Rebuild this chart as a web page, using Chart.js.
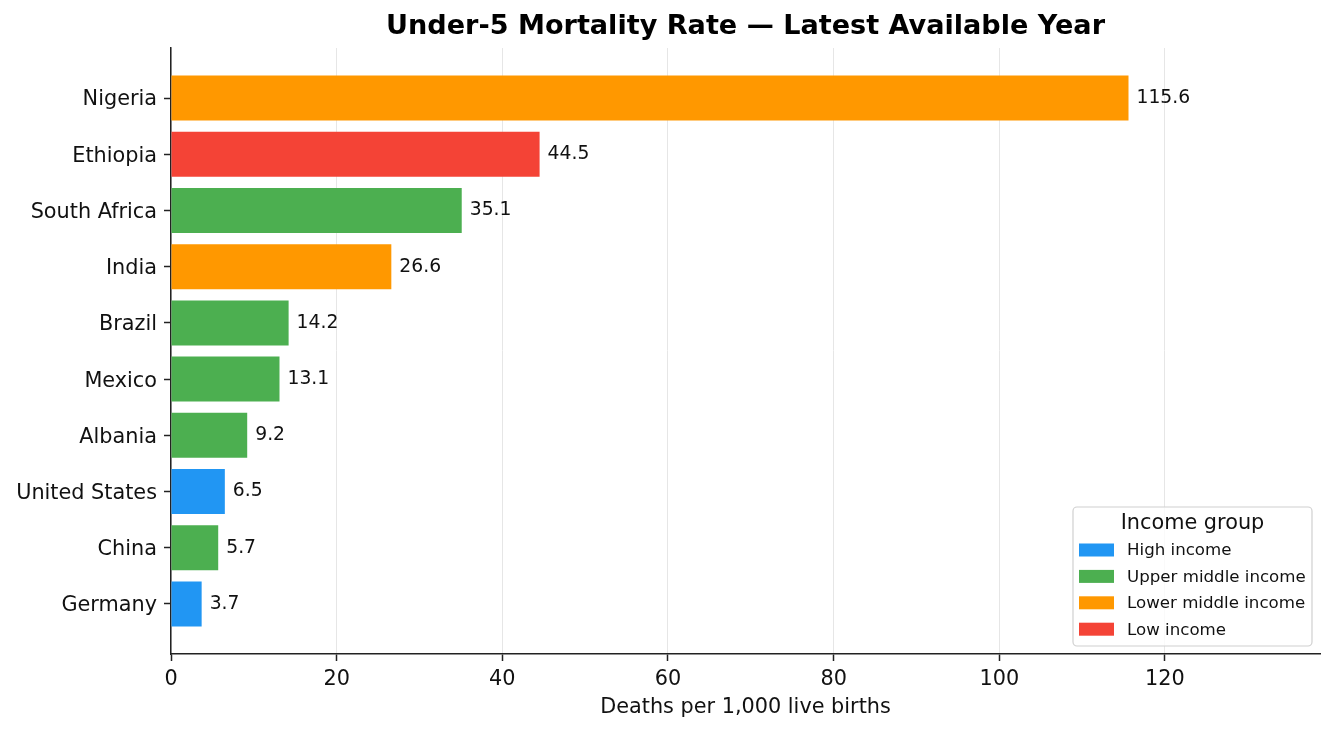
<!DOCTYPE html>
<html>
<head>
<meta charset="utf-8">
<script src="https://cdn.jsdelivr.net/npm/chart.js@4/dist/chart.umd.min.js"></script>
<style>
  html, body { margin: 0; padding: 0; background: #fff; }
  #wrap { width: 1335px; height: 732px; }
</style>
</head>
<body>
<div id="wrap"><canvas id="mortalityChart" width="1335" height="732"></canvas></div>
<script>
// Under-5 mortality, latest year (deaths per 1,000 live births)
const countries = ['Nigeria', 'Ethiopia', 'South Africa', 'India', 'Brazil', 'Mexico', 'Albania', 'United States', 'China', 'Germany'];
const rates = [115.6, 44.5, 35.1, 26.6, 14.2, 13.1, 9.2, 6.5, 5.7, 3.7];
const incomeGroups = ['Lower middle income', 'Low income', 'Upper middle income', 'Lower middle income', 'Upper middle income',
  'Upper middle income', 'Upper middle income', 'High income', 'Upper middle income', 'High income'];
const groupNames = ['High income', 'Upper middle income', 'Lower middle income', 'Low income'];
const groupColors = ['#2196F3', '#4CAF50', '#FF9800', '#F44336'];
const xTicks = [0, 20, 40, 60, 80, 100, 120];

const FONT = "'DejaVu Sans', 'Liberation Sans', sans-serif";
const INK = '#111';

// title, value labels and the income legend
const annotate = {
  id: 'annotate',
  afterDatasetsDraw(chart) {
    const ctx = chart.ctx;
    const xs = chart.scales.x, ys = chart.scales.y;
    ctx.save();
    ctx.font = '18.75px ' + FONT;
    ctx.fillStyle = INK;
    ctx.textAlign = 'left';
    ctx.textBaseline = 'middle';
    rates.forEach((v, i) => {
      ctx.fillText(v.toFixed(1), xs.getPixelForValue(v) + 8, ys.getPixelForValue(i));
    });
    ctx.restore();
  },
  afterDraw(chart) {
    const ctx = chart.ctx;
    const area = chart.chartArea;
    ctx.save();
    // title centred over plot area
    ctx.font = 'bold 27.1px ' + FONT;
    ctx.fillStyle = '#000';
    ctx.textAlign = 'center';
    ctx.textBaseline = 'middle';
    ctx.fillText('Under-5 Mortality Rate \u2014 Latest Available Year', (area.left + area.right) / 2, 27);

    // legend box (bottom right)
    const bx = 1073, by = 507, bw = 239, bh = 139;
    ctx.beginPath();
    ctx.roundRect(bx, by, bw, bh, 4);
    ctx.fillStyle = 'rgba(255,255,255,0.8)';
    ctx.fill();
    ctx.strokeStyle = '#d0d0d0';
    ctx.lineWidth = 1.2;
    ctx.stroke();

    ctx.fillStyle = INK;
    ctx.font = '20.8px ' + FONT;
    ctx.fillText('Income group', bx + bw / 2, by + 17);

    ctx.font = '16.65px ' + FONT;
    ctx.textAlign = 'left';
    groupNames.forEach((g, k) => {
      const ry = by + 43 + k * 26.4;
      ctx.fillStyle = groupColors[k];
      ctx.fillRect(bx + 6, ry - 6.5, 35, 13);
      ctx.fillStyle = INK;
      ctx.fillText(g, bx + 54, ry + 1);
    });
    ctx.restore();
  }
};

const ctx = document.getElementById('mortalityChart').getContext('2d');
new Chart(ctx, {
  type: 'bar',
  data: {
    datasets: [{
      label: 'Under-5 mortality',
      data: rates.map((v, i) => ({ x: v, y: i })),
      backgroundColor: incomeGroups.map(g => groupColors[groupNames.indexOf(g)]),
      borderWidth: 0,
      barPercentage: 0.8,
      categoryPercentage: 1.0
    }]
  },
  options: {
    indexAxis: 'y',
    responsive: false,
    animation: false,
    devicePixelRatio: 1,
    layout: { padding: { left: 0, right: 15, top: 48, bottom: 0 } },
    plugins: {
      legend: { display: false },
      title: { display: false },
      tooltip: { enabled: false }
    },
    scales: {
      x: {
        type: 'linear',
        position: 'bottom',
        min: 0,
        max: Math.max(...rates) * 1.2,
        offset: false,
        afterBuildTicks: s => { s.ticks = xTicks.map(v => ({ value: v })); },
        afterFit: s => { s.height = 78; },
        grid: { offset: false, color: '#e6e6e6', lineWidth: 1, tickLength: 7, tickColor: '#222', tickWidth: 1.5 },
        border: { display: true, color: '#222', width: 1.5 },
        ticks: { color: INK, font: { family: FONT, size: 20.8 }, padding: 6, maxRotation: 0 },
        title: {
          display: true,
          text: 'Deaths per 1,000 live births',
          color: INK,
          font: { family: FONT, size: 20.8 },
          padding: { top: 0, bottom: 11.5 }
        }
      },
      y: {
        type: 'linear',
        reverse: true,
        min: -0.89,
        max: 9.89,
        offset: false,
        afterBuildTicks: s => { s.ticks = countries.map((c, i) => ({ value: i })); },
        afterFit: s => { s.width = 171; },
        grid: { offset: false, drawOnChartArea: false, tickLength: 7, tickColor: '#222', tickWidth: 1.5 },
        border: { display: true, color: '#222', width: 1.5 },
        ticks: {
          color: INK,
          font: { family: FONT, size: 20.8 },
          padding: 7,
          labelOffset: 2,
          callback: v => countries[v]
        }
      }
    }
  },
  plugins: [annotate]
});
</script>
</body>
</html>
